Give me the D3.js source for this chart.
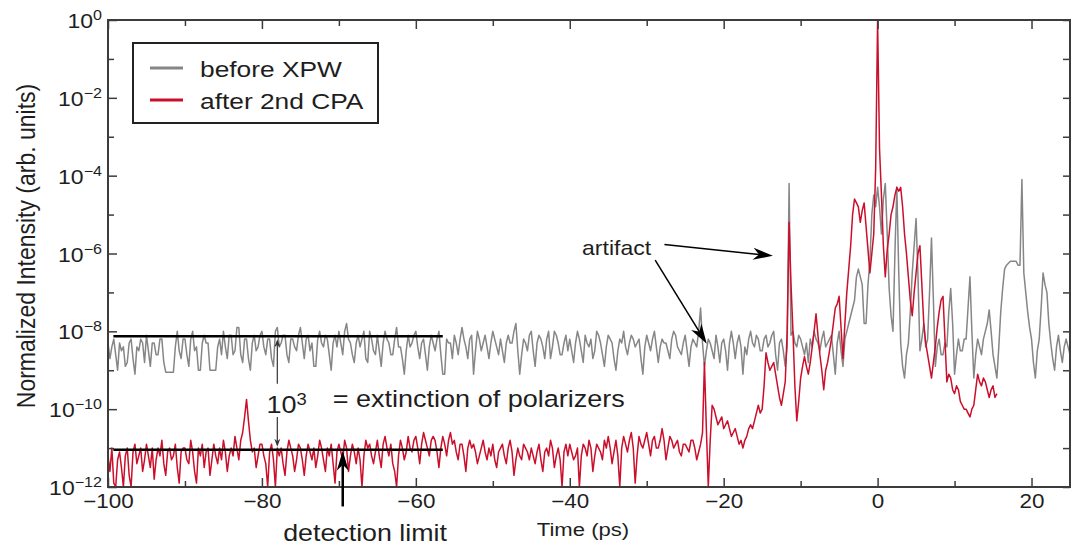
<!DOCTYPE html>
<html>
<head>
<meta charset="utf-8">
<script src="https://cdn.jsdelivr.net/npm/d3@7"></script>
<style>
  body { margin: 0; background: #fff; }
  svg text { font-family: "Liberation Sans", Arial, Helvetica, sans-serif; fill: #1e1e1e; }
</style>
</head>
<body>
<svg id="chart"></svg>
<script>
// scope traces are sampled every 0.25 ps starting at -100 ps
const tStart = -100;
const tStep = 0.25;

// log10 of the normalized intensity (10 samples = 2.5 ps per row)
const beforeXpwLog = [
  -8.3,-8.7,-8.4,-8.2,-8.6,-9.0,-8.3,-8.5,-8.4,-8.9,
  -8.8,-8.3,-8.2,-8.7,-9.1,-8.4,-8.5,-8.2,-8.3,-8.8,
  -8.1,-8.5,-8.9,-8.3,-8.3,-8.6,-8.6,-8.2,-8.2,-8.8,
  -9.05,-9.05,-9.05,-9.05,-9.05,-8.4,-8.0,-8.5,-8.7,-8.2,
  -8.2,-8.6,-8.9,-8.2,-8.0,-8.5,-8.4,-9.0,-9.0,-8.3,
  -8.1,-8.3,-8.3,-9.0,-9.0,-9.0,-9.0,-8.4,-8.2,-8.6,
  -8.0,-8.4,-8.7,-8.1,-8.1,-8.6,-8.5,-7.9,-7.9,-8.6,
  -8.8,-8.2,-8.2,-8.7,-9.0,-8.3,-8.1,-8.5,-8.4,-8.1,
  -8.0,-8.4,-8.6,-8.2,-8.2,-8.7,-8.9,-8.0,-7.9,-8.4,
  -8.3,-8.1,-8.1,-8.6,-8.8,-8.2,-8.2,-8.4,-8.5,-8.1,
  -7.9,-8.3,-8.7,-8.2,-8.1,-8.5,-8.3,-8.9,-8.9,-8.2,
  -8.0,-8.3,-8.4,-8.1,-8.2,-8.6,-9.0,-8.3,-8.1,-8.4,
  -8.0,-8.3,-8.6,-8.0,-7.8,-8.2,-8.3,-8.6,-8.8,-8.3,
  -8.1,-8.4,-8.2,-8.0,-8.7,-8.8,-8.0,-8.2,-8.5,-8.6,
  -8.1,-8.5,-8.9,-8.3,-8.0,-8.2,-8.3,-8.6,-8.6,-8.2,
  -7.9,-8.4,-8.4,-8.7,-9.1,-8.5,-8.1,-8.4,-8.3,-8.1,
  -8.0,-8.4,-8.7,-8.3,-8.2,-8.6,-9.0,-8.4,-8.1,-8.3,
  -8.5,-8.2,-8.0,-8.6,-9.1,-9.1,-8.2,-8.3,-8.3,-8.7,
  -8.1,-8.3,-8.6,-8.2,-7.9,-8.2,-8.4,-8.7,-8.2,-8.1,
  -9.1,-8.5,-8.0,-8.2,-8.5,-8.3,-8.1,-8.4,-8.7,-8.3,
  -8.0,-8.2,-8.4,-8.6,-8.2,-8.5,-8.8,-8.3,-8.1,-8.3,
  -8.3,-8.0,-7.8,-8.5,-9.1,-8.6,-8.2,-8.3,-8.5,-8.1,
  -8.0,-8.5,-8.9,-8.3,-8.1,-8.2,-8.4,-8.7,-8.2,-8.0,
  -8.7,-8.4,-8.0,-8.1,-8.3,-8.6,-8.6,-8.3,-8.1,-8.5,
  -8.2,-8.5,-8.8,-8.3,-8.0,-8.2,-8.5,-8.8,-8.1,-8.3,
  -8.4,-8.2,-8.7,-8.5,-8.0,-8.1,-8.3,-8.6,-8.9,-8.4,
  -8.1,-8.2,-8.3,-8.7,-9.0,-8.5,-8.2,-8.3,-8.0,-8.4,
  -8.6,-8.3,-8.1,-8.2,-8.4,-8.3,-8.2,-8.7,-9.1,-8.4,
  -8.1,-8.3,-8.5,-8.2,-8.0,-8.4,-8.8,-8.4,-8.2,-8.3,
  -8.3,-8.5,-8.7,-8.2,-8.0,-8.1,-8.4,-8.5,-8.6,-8.3,
  -8.1,-8.5,-8.9,-8.4,-8.2,-8.3,-8.4,-8.0,-7.4,-8.3,
  -8.9,-8.5,-8.2,-8.3,-8.5,-8.7,-8.1,-8.4,-8.8,-8.3,
  -8.2,-8.5,-9.0,-8.3,-8.0,-8.3,-8.7,-8.3,-8.1,-8.4,
  -9.1,-8.4,-8.6,-8.2,-8.0,-8.3,-8.4,-8.1,-8.2,-8.5,
  -8.5,-8.2,-8.1,-8.4,-8.3,-8.1,-8.0,-8.6,-9.0,-8.3,
  -8.2,-8.5,-8.9,-8.4,-4.2,-8.1,-8.0,-8.3,-8.4,-8.1,
  -8.2,-8.4,-8.6,-8.3,-8.8,-8.2,-8.4,-8.0,-8.2,-8.3,
  -8.5,-8.2,-8.0,-8.4,-8.3,-8.2,-8.1,-8.6,-9.1,-8.3,
  -8.0,-8.5,-8.9,-8.2,-8.0,-7.8,-7.6,-7.4,-7.2,-6.6,
  -6.4,-6.6,-6.8,-7.8,-7.8,-6.8,-6.2,-5.0,-4.5,-4.8,
  -4.3,-4.8,-5.5,-4.6,-4.2,-5.5,-6.9,-7.6,-8.0,-6.0,
  -4.3,-6.5,-8.3,-8.9,-9.2,-8.6,-8.3,-7.5,-6.5,-5.8,
  -5.1,-6.6,-8.5,-8.2,-7.8,-8.4,-8.2,-7.0,-5.6,-7.2,
  -8.9,-8.4,-8.2,-8.6,-8.6,-8.3,-8.4,-7.5,-6.9,-7.8,
  -9.1,-8.6,-8.2,-8.5,-8.5,-8.2,-8.2,-7.4,-6.6,-8.0,
  -9.2,-8.6,-8.2,-8.4,-8.6,-8.2,-8.0,-7.8,-7.45,-8.0,
  -8.6,-8.9,-9.2,-8.4,-7.5,-6.9,-6.4,-6.3,-6.25,-6.2,
  -6.2,-6.2,-6.2,-6.3,-6.3,-4.1,-6.5,-7.0,-7.5,-7.9,
  -8.2,-8.8,-9.2,-8.5,-8.2,-7.4,-6.5,-6.8,-7.0,-7.8,
  -8.3,-8.7,-9.0,-8.4,-8.1,-8.5,-8.8,-8.4,-8.2,-8.4,
  -8.6
];

const after2ndCpaLog = [
  -11.2,-11.6,-11.0,-11.9,-12.0,-11.3,-11.1,-11.5,-12.0,-11.2,
  -11.0,-11.7,-12.0,-11.1,-10.9,-11.4,-11.2,-11.0,-11.6,-11.3,
  -10.9,-11.2,-11.5,-11.0,-11.8,-11.3,-11.0,-11.2,-10.8,-11.4,
  -11.7,-11.1,-11.0,-11.3,-11.2,-10.9,-11.5,-11.9,-11.1,-11.0,
  -11.0,-11.3,-11.4,-10.8,-11.1,-11.6,-11.9,-11.0,-11.2,-10.9,
  -11.5,-11.1,-11.0,-11.7,-11.3,-10.9,-11.2,-11.4,-11.0,-11.3,
  -10.8,-11.1,-11.6,-11.2,-11.0,-11.2,-10.7,-11.0,-11.3,-10.8,
  -10.6,-10.2,-9.75,-10.3,-10.8,-11.1,-11.0,-11.5,-11.2,-10.9,
  -10.9,-11.2,-11.4,-12.0,-11.1,-10.9,-11.3,-12.0,-11.0,-11.2,
  -11.0,-11.4,-11.7,-11.1,-10.8,-11.0,-11.2,-11.6,-11.3,-10.9,
  -11.0,-11.3,-11.7,-11.2,-10.9,-11.1,-11.3,-11.0,-11.5,-11.2,
  -10.8,-11.0,-11.3,-11.6,-11.0,-11.2,-10.9,-11.4,-11.9,-11.1,
  -10.9,-11.1,-11.3,-10.8,-11.0,-11.6,-11.2,-10.9,-11.1,-11.4,
  -11.0,-11.3,-12.0,-11.2,-10.8,-11.0,-10.9,-11.2,-11.4,-11.1,
  -10.8,-11.2,-11.5,-10.9,-10.7,-11.0,-11.2,-10.9,-11.4,-11.6,
  -12.0,-11.2,-10.8,-11.0,-11.3,-11.1,-10.7,-11.0,-11.1,-10.8,
  -10.7,-11.0,-11.4,-10.9,-10.6,-10.8,-11.0,-11.2,-10.8,-10.7,
  -10.8,-11.1,-11.5,-11.0,-10.7,-10.9,-11.2,-10.8,-10.6,-10.9,
  -10.8,-11.1,-11.3,-10.9,-10.9,-11.2,-11.6,-11.0,-10.8,-11.0,
  -10.9,-11.1,-11.4,-11.2,-11.0,-10.8,-11.1,-11.3,-11.0,-11.2,
  -10.9,-11.3,-11.5,-11.1,-11.0,-10.9,-11.2,-11.4,-11.0,-10.8,
  -11.1,-11.7,-11.3,-11.0,-11.2,-11.3,-10.9,-11.0,-11.1,-11.3,
  -11.0,-11.2,-11.4,-11.1,-10.9,-11.3,-11.6,-11.1,-11.0,-11.2,
  -10.8,-11.0,-11.5,-11.2,-11.0,-11.3,-12.0,-11.1,-10.9,-11.2,
  -10.9,-11.1,-11.3,-11.2,-11.0,-12.0,-11.2,-10.9,-11.0,-11.2,
  -10.8,-11.0,-11.6,-11.2,-10.9,-11.0,-11.1,-11.3,-10.8,-11.0,
  -10.7,-11.0,-11.4,-11.1,-10.8,-11.2,-12.0,-11.0,-10.7,-10.9,
  -11.1,-10.8,-10.6,-11.0,-11.9,-11.2,-10.7,-10.9,-11.0,-10.8,
  -10.6,-10.9,-11.2,-10.8,-10.7,-11.0,-11.0,-10.8,-10.5,-10.8,
  -11.3,-11.0,-10.7,-10.8,-11.0,-10.9,-10.8,-11.1,-11.2,-10.9,
  -10.9,-11.0,-11.1,-10.8,-10.8,-11.0,-11.3,-11.1,-10.9,-10.6,
  -8.8,-10.5,-12.0,-10.8,-9.9,-10.0,-10.2,-10.4,-10.3,-10.2,
  -10.5,-10.4,-10.3,-10.5,-10.7,-10.6,-10.5,-10.7,-10.9,-10.8,
  -11.0,-10.8,-10.7,-10.5,-10.4,-10.5,-10.3,-10.1,-9.9,-10.1,
  -10.0,-9.4,-8.55,-8.8,-9.0,-8.9,-8.8,-9.1,-9.4,-9.7,
  -9.9,-9.6,-9.3,-8.0,-5.2,-6.8,-8.0,-9.4,-10.3,-9.8,
  -9.2,-8.9,-8.65,-8.9,-9.1,-8.8,-8.4,-8.0,-7.55,-8.1,
  -8.6,-9.0,-9.5,-9.0,-8.8,-8.5,-8.2,-7.8,-7.4,-7.3,
  -7.1,-7.9,-8.7,-7.8,-7.0,-6.4,-5.8,-5.0,-4.6,-4.7,
  -4.8,-5.2,-4.9,-4.7,-5.3,-5.9,-6.5,-6.0,-5.5,-3.8,
  0,-3.3,-4.5,-5.8,-6.6,-5.9,-5.5,-5.0,-4.8,-4.5,
  -4.3,-4.4,-4.3,-4.8,-5.5,-6.0,-6.6,-7.2,-7.6,-7.0,
  -6.5,-6.0,-5.8,-6.8,-7.8,-8.3,-8.6,-8.9,-9.2,-8.8,
  -8.4,-7.9,-7.5,-7.2,-7.1,-8.2,-9.3,-9.1,-9.2,-9.5,
  -9.6,-9.4,-9.5,-9.8,-9.9,-10.0,-10.0,-10.1,-10.2,-10.0,
  -9.9,-9.5,-9.1,-9.3,-9.4,-9.2,-9.3,-9.5,-9.7,-9.5,
  -9.4,-9.7,-9.6
];

const seriesNames = ['before XPW', 'after 2nd CPA'];
const seriesColors = ['#868686', '#cb0f2b'];

const xMajorTicks = [-100, -80, -60, -40, -20, 0, 20];
const xMinorTicks = [-90, -70, -50, -30, -10, 10];
const yMajorExps = [0, -2, -4, -6, -8, -10, -12];
const yMinorExps = [-1, -3, -5, -7, -9, -11];

// black reference bars (noise floor before XPW, detection limit)
const levelBeforeXpw = 7.5e-9;
const levelDetection = 9e-12;
const levelSpan = [-99.3, -56.5];

class TraceChart {
  constructor(_config) {
    this.config = {
      parentElement: _config.parentElement,
      containerWidth: _config.containerWidth || 1080,
      containerHeight: _config.containerHeight || 548,
      margin: _config.margin || {top: 20, right: 10, bottom: 61, left: 108},
      stretch: 1.15
    };
    this.initVis();
  }

  initVis() {
    let vis = this;
    vis.width = vis.config.containerWidth - vis.config.margin.left - vis.config.margin.right;
    vis.height = vis.config.containerHeight - vis.config.margin.top - vis.config.margin.bottom;

    vis.xScale = d3.scaleLinear().domain([-100, 25]).range([0, vis.width]);
    vis.yScale = d3.scaleLog().domain([1e-12, 1]).range([vis.height, 0]);

    vis.svg = d3.select(vis.config.parentElement)
        .attr('width', vis.config.containerWidth)
        .attr('height', vis.config.containerHeight);

    vis.chart = vis.svg.append('g')
        .attr('transform', `translate(${vis.config.margin.left},${vis.config.margin.top})`);

    vis.series = [beforeXpwLog, after2ndCpaLog].map((logs, k) => ({
      name: seriesNames[k],
      color: seriesColors[k],
      points: logs.map((e, i) => ({t: tStart + i * tStep, v: Math.pow(10, e)}))
    }));
  }

  // text squeezed like the reference (wide glyphs)
  label(parent, x, y, str, size, anchor) {
    return parent.append('text')
        .attr('transform', `translate(${x},${y}) scale(${this.config.stretch},1)`)
        .attr('font-size', size)
        .attr('text-anchor', anchor || 'start')
        .text(str);
  }

  arrow(parent, x1, y1, x2, y2, opts) {
    const len = Math.hypot(x2 - x1, y2 - y1);
    const ux = (x2 - x1) / len, uy = (y2 - y1) / len;
    const nx = -uy, ny = ux;
    const bx = x2 - ux * opts.head, by = y2 - uy * opts.head;
    const mx = x2 - ux * opts.head * 0.7, my = y2 - uy * opts.head * 0.7;
    parent.append('line')
        .attr('x1', x1).attr('y1', y1).attr('x2', mx).attr('y2', my)
        .attr('stroke', opts.color).attr('stroke-width', opts.lw);
    parent.append('path')
        .attr('d', `M${x2},${y2}L${bx + nx * opts.wid / 2},${by + ny * opts.wid / 2}L${mx},${my}L${bx - nx * opts.wid / 2},${by - ny * opts.wid / 2}Z`)
        .attr('fill', opts.color);
  }

  updateVis() {
    let vis = this;
    const xs = vis.xScale, ys = vis.yScale;
    const axisColor = '#3c3c3c';
    const tidy = g => {
      g.select('.domain').remove();
      g.selectAll('line').attr('stroke', axisColor).attr('stroke-width', 1.5);
    };
    const decades = exps => exps.map(e => Math.pow(10, e));

    // traces
    const line = d3.line().x(d => xs(d.t)).y(d => ys(d.v));
    vis.chart.selectAll('.trace')
      .data(vis.series)
      .join('path')
        .attr('class', 'trace')
        .attr('d', d => line(d.points))
        .attr('fill', 'none')
        .attr('stroke', d => d.color)
        .attr('stroke-width', 1.5)
        .attr('stroke-linejoin', 'round');

    // ticks on all four sides, pointing inward
    vis.chart.append('g').attr('transform', `translate(0,${vis.height})`)
        .call(d3.axisBottom(xs).tickValues(xMajorTicks).tickSize(-9).tickPadding(7))
        .call(tidy)
        .call(g => g.selectAll('text')
            .attr('font-size', 19.5)
            .attr('transform', `scale(${vis.config.stretch},1)`));
    vis.chart.append('g').attr('transform', `translate(0,${vis.height})`)
        .call(d3.axisBottom(xs).tickValues(xMinorTicks).tickSize(-6).tickFormat(''))
        .call(tidy);
    vis.chart.append('g')
        .call(d3.axisTop(xs).tickValues(xMajorTicks).tickSize(-9).tickFormat(''))
        .call(tidy);
    vis.chart.append('g')
        .call(d3.axisTop(xs).tickValues(xMinorTicks).tickSize(-6).tickFormat(''))
        .call(tidy);
    vis.chart.append('g')
        .call(d3.axisLeft(ys).tickValues(decades(yMajorExps)).tickSize(-9).tickFormat(''))
        .call(tidy);
    vis.chart.append('g')
        .call(d3.axisLeft(ys).tickValues(decades(yMinorExps)).tickSize(-6).tickFormat(''))
        .call(tidy);
    vis.chart.append('g').attr('transform', `translate(${vis.width},0)`)
        .call(d3.axisRight(ys).tickValues(decades(yMajorExps.concat(yMinorExps))).tickSize(-7).tickFormat(''))
        .call(tidy);

    vis.chart.append('rect')
        .attr('width', vis.width).attr('height', vis.height)
        .attr('fill', 'none').attr('stroke', axisColor).attr('stroke-width', 2);

    // y tick labels as powers of ten
    yMajorExps.forEach(e => {
      const t = vis.chart.append('text')
          .attr('transform', `translate(-6,${ys(Math.pow(10, e)) + 8}) scale(${vis.config.stretch},1)`)
          .attr('text-anchor', 'end')
          .attr('font-size', 20);
      t.append('tspan').text('10');
      t.append('tspan').attr('dy', -8).attr('font-size', 14).text(e === 0 ? '0' : '\u2212' + (-e));
    });

    // axis titles
    vis.label(vis.chart, vis.width / 2 - 6, vis.height + 49, 'Time (ps)', 19.2, 'middle');
    vis.svg.append('text')
        .attr('transform', `translate(35,246) scale(${vis.config.stretch},1) rotate(-90)`)
        .attr('font-size', 23)
        .attr('text-anchor', 'middle')
        .text('Normalized Intensity (arb. units)');

    // legend
    const legend = vis.svg.append('g');
    legend.append('rect')
        .attr('x', 133).attr('y', 43).attr('width', 245).attr('height', 80)
        .attr('fill', '#fff').attr('stroke', '#222').attr('stroke-width', 2);
    vis.series.forEach((s, k) => {
      legend.append('line')
          .attr('x1', 150).attr('x2', 183)
          .attr('y1', 68 + k * 32).attr('y2', 68 + k * 32)
          .attr('stroke', s.color).attr('stroke-width', 3);
      vis.label(legend, 200, 77 + k * 32, s.name, 22.9);
    });

    // annotations
    const ann = vis.chart.append('g');
    [levelBeforeXpw, levelDetection].forEach(level => {
      ann.append('line')
          .attr('x1', xs(levelSpan[0])).attr('x2', xs(levelSpan[1]))
          .attr('y1', ys(level)).attr('y2', ys(level))
          .attr('stroke', '#000').attr('stroke-width', 2.5);
    });

    const ax = xs(-78);
    const thin = {head: 8, wid: 6, lw: 1.2, color: '#333'};
    vis.arrow(ann, ax, ys(Math.pow(10, -9.35)), ax, ys(levelBeforeXpw) + 3, thin);
    vis.arrow(ann, ax, ys(Math.pow(10, -10.2)), ax, ys(levelDetection) - 3, thin);

    const ext = ann.append('text')
        .attr('transform', `translate(${xs(-79.4)},${ys(Math.pow(10, -10.1))}) scale(${vis.config.stretch},1)`)
        .attr('font-size', 23.5);
    ext.append('tspan').text('10');
    ext.append('tspan').attr('dy', -8).attr('font-size', 16).text('3');
    vis.label(ann, xs(-70.8), ys(Math.pow(10, -9.95)), '= extinction of polarizers', 23.5);

    const bold = {head: 20, wid: 12, lw: 2.5, color: '#000'};
    vis.arrow(ann, xs(-69.5), ys(Math.pow(10, -12.5)), xs(-69.5), ys(Math.pow(10, -11.07)), bold);
    vis.label(ann, xs(-66.6), ys(Math.pow(10, -13.39)), 'detection limit', 23.3, 'middle');

    const fine = {head: 20, wid: 12, lw: 1.5, color: '#000'};
    vis.label(ann, xs(-38.4), ys(Math.pow(10, -6.05)), 'artifact', 20);
    vis.arrow(ann, xs(-27.7), ys(Math.pow(10, -5.77)), xs(-13.6), ys(Math.pow(10, -6.06)), fine);
    vis.arrow(ann, xs(-28.9), ys(Math.pow(10, -6.17)), xs(-22.2), ys(Math.pow(10, -8.32)), fine);
  }
}

const chart = new TraceChart({parentElement: '#chart'});
chart.updateVis();
</script>
</body>
</html>
